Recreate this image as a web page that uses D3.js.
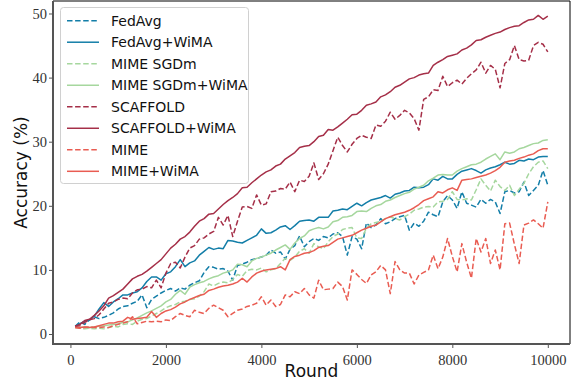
<!DOCTYPE html>
<html>
<head>
<meta charset="utf-8">
<script src="https://cdnjs.cloudflare.com/ajax/libs/d3/7.8.5/d3.min.js"></script>
<style>
    body { margin: 0; background: white; }
    .tick text { font-family: 'Liberation Serif', serif; font-size: 14.5px; fill: #333; }
    .aLabel { font-family: 'DejaVu Sans', sans-serif; font-size: 17px; fill: #111; }
    .legText { font-family: 'DejaVu Sans', sans-serif; font-size: 14px; fill: #111; }
</style>
</head>
<body>
<div id="chart"></div>
<script>
var width = 573;
var height = 383;
var plotLeft = 53;
var plotRight = 570;
var plotTop = 1;
var plotBottom = 344;

// rounds 100 .. 10000, one value every 100 rounds
var rounds = d3.range(1, 101).map(i => i * 100);
var xTicks = [0, 2000, 4000, 6000, 8000, 10000];
var yTicks = [0, 10, 20, 30, 40, 50];

var fedAvg = [1.2,1.9,1.5,2.2,2.7,2.4,2.6,2.9,3.3,3.9,4.3,4.4,4.8,5.1,6.1,4.1,5.4,5.9,6.4,6.8,
    7.1,6.7,7.2,7.0,7.6,8.0,8.3,9.6,10.5,10.4,10.1,10.2,9.8,8.4,10.7,10.9,11.2,11.6,11.8,12.0,
    12.3,13.1,12.6,12.8,11.7,13.2,13.8,15.3,13.6,14.4,14.9,14.6,15.2,15.0,15.6,15.8,15.2,12.3,15.2,14.8,
    13.3,17.3,16.6,17.0,18.0,17.2,17.5,18.0,18.3,18.5,16.2,17.3,16.8,17.6,19.0,18.6,18.3,20.6,21.6,20.9,
    19.6,22.2,20.4,20.1,19.8,21.0,20.4,21.0,20.6,18.8,22.2,22.4,22.0,22.2,23.7,21.6,22.4,23.2,25.5,23.2];
var fedAvgWima = [1.2,1.6,2.0,2.2,2.8,3.9,4.9,4.3,5.0,5.5,6.1,6.1,6.4,6.6,7.2,8.2,8.9,8.9,8.4,9.4,
    9.7,10.5,11.6,10.5,11.1,11.4,12.3,12.9,13.5,13.2,13.4,13.3,14.6,14.5,14.3,14.2,14.6,15.0,15.4,16.4,
    15.7,15.8,16.2,16.7,16.9,16.3,16.9,17.6,17.7,17.8,17.6,18.2,18.2,18.2,19.2,19.3,19.5,19.4,19.9,20.4,
    20.0,20.5,20.9,21.1,21.3,21.6,21.2,21.8,22.0,22.3,22.4,22.9,22.8,22.9,23.3,24.2,24.0,24.6,24.2,24.2,
    24.9,25.4,25.6,25.8,25.5,25.1,25.6,25.9,26.1,26.4,26.8,26.5,26.6,27.1,27.0,27.3,27.2,27.6,27.7,27.7];
var mimeSgdm = [1.0,0.9,0.8,0.9,0.8,0.9,0.8,1.0,1.2,1.1,1.5,1.6,1.5,2.0,2.3,2.4,2.8,3.2,3.6,4.1,
    4.4,4.6,5.0,5.1,5.4,5.5,5.9,6.6,7.8,7.5,7.9,8.1,8.0,8.5,9.3,9.0,9.9,10.1,10.0,10.3,
    9.7,10.0,10.2,11.0,11.8,11.5,12.0,12.9,13.3,12.6,14.1,13.6,13.3,14.4,15.2,15.6,16.3,16.5,16.6,15.0,
    14.9,16.5,17.2,17.4,17.6,18.0,18.3,18.0,17.8,18.3,18.7,19.3,19.5,19.8,19.9,19.8,20.6,20.7,21.0,22.2,
    21.0,20.9,21.1,20.9,22.5,24.2,23.2,22.3,24.0,23.0,22.4,23.2,21.6,22.6,23.5,25.0,26.1,26.8,27.0,25.8];
var mimeSgdmWima = [1.1,1.0,1.1,1.0,1.1,1.2,1.3,1.4,1.5,1.6,1.8,1.9,2.2,2.5,2.9,3.3,3.6,4.0,4.4,5.0,
    5.4,6.2,6.8,6.2,7.3,7.7,8.0,8.2,8.6,8.9,9.1,9.5,9.7,10.0,10.9,10.8,10.5,11.4,11.8,12.0,
    12.3,12.6,13.1,13.5,13.9,13.2,14.2,14.9,15.3,16.1,16.4,16.6,16.4,16.7,17.5,17.7,18.2,18.3,18.5,19.1,
    19.2,19.1,19.6,20.0,20.2,20.7,20.9,21.3,21.6,21.9,22.1,22.6,22.9,23.2,23.9,24.3,24.8,24.9,24.8,24.8,
    25.4,25.8,26.1,26.4,26.5,26.8,27.3,27.7,28.1,27.2,28.4,28.2,28.4,28.9,29.1,29.4,29.7,29.8,30.2,30.3];
var scaffold = [1.2,1.3,1.8,2.2,2.4,3.0,3.9,4.8,5.0,5.4,5.6,5.5,6.4,6.9,7.0,7.4,7.2,8.4,7.2,9.5,
    11.0,11.2,10.3,12.0,13.4,13.8,14.8,15.0,15.6,16.0,18.2,17.0,18.5,15.2,17.6,19.8,19.9,19.6,21.7,20.1,
    20.3,22.2,22.3,22.7,22.6,23.7,22.2,24.0,23.8,24.6,26.7,24.1,25.0,26.5,28.6,30.7,29.4,28.4,29.6,30.5,
    31.0,30.7,30.5,32.6,32.4,33.2,34.6,33.5,34.1,34.9,34.5,33.6,31.8,36.6,37.0,38.1,38.0,40.2,38.6,39.2,
    39.6,39.0,39.9,40.6,41.2,42.4,40.7,41.9,41.3,38.4,42.2,42.8,45.0,42.8,42.6,42.7,45.0,45.5,45.2,44.0];
var scaffoldWima = [1.2,1.5,2.1,2.3,2.9,3.6,4.4,5.6,6.0,6.5,7.0,7.8,8.6,9.0,9.3,9.8,10.4,11.0,11.6,12.5,
    13.4,14.0,14.8,15.2,15.9,16.8,17.6,18.0,18.7,18.8,19.5,20.2,20.8,21.3,21.9,22.8,22.9,23.6,24.2,24.8,
    25.3,25.6,26.2,26.5,27.3,27.8,28.3,29.1,29.3,29.4,30.0,30.8,31.0,31.9,31.8,32.3,32.9,33.5,34.2,34.3,
    34.9,35.7,35.9,36.2,37.0,37.3,37.8,38.5,38.8,39.3,39.8,40.0,40.4,40.6,40.7,41.9,42.4,42.8,43.3,43.5,
    43.7,44.3,44.6,45.1,45.8,45.9,46.3,46.6,46.9,47.1,47.5,47.8,48.0,48.1,48.6,49.0,49.1,49.7,49.1,49.6];
var mime = [1.0,0.9,1.0,1.1,1.0,1.0,1.1,1.0,1.3,1.5,1.7,1.9,2.7,1.6,1.8,2.0,1.9,2.0,1.9,2.2,
    2.1,2.7,3.2,2.9,2.7,3.7,3.4,3.2,4.0,4.5,4.1,3.7,2.7,3.2,3.7,3.9,4.3,4.5,4.8,5.8,
    4.5,5.3,4.3,4.6,6.1,5.8,6.6,6.3,7.1,6.1,5.6,8.4,6.9,7.0,7.1,8.1,7.4,5.3,10.0,9.3,
    8.5,7.9,9.2,9.7,10.7,10.0,6.3,11.3,10.0,9.5,9.5,7.8,9.2,9.6,10.0,12.3,10.2,12.0,14.9,12.1,
    9.7,14.1,11.2,8.7,14.9,12.8,14.9,11.0,13.1,10.0,17.2,17.3,14.0,11.0,17.0,17.3,17.8,17.2,16.5,20.6];
var mimeWima = [1.0,1.0,1.1,1.0,1.1,1.3,1.5,1.7,1.7,1.9,2.0,2.6,2.3,2.4,2.5,2.6,3.5,2.6,3.2,3.6,
    3.8,4.2,4.7,5.0,5.4,5.7,6.0,6.2,6.8,7.0,7.3,7.5,7.6,7.8,8.1,8.7,8.1,8.9,9.5,9.8,
    10.0,10.1,10.2,10.5,10.0,11.6,12.1,12.3,12.6,12.7,13.0,13.5,13.7,13.8,14.3,14.8,15.0,15.2,15.4,15.8,
    16.2,16.5,16.8,17.0,17.5,18.0,18.3,18.6,18.8,19.0,19.3,19.7,20.2,20.8,21.1,21.4,22.2,22.0,22.5,22.8,
    22.4,24.0,24.1,24.2,24.4,24.6,24.8,25.1,25.5,26.0,26.8,27.0,27.1,27.4,27.6,27.9,28.1,28.6,28.9,28.9];

var seriesNames = ['FedAvg', 'FedAvg+WiMA', 'MIME SGDm', 'MIME SGDm+WiMA',
    'SCAFFOLD', 'SCAFFOLD+WiMA', 'MIME', 'MIME+WiMA'];
var seriesValues = [fedAvg, fedAvgWima, mimeSgdm, mimeSgdmWima, scaffold, scaffoldWima, mime, mimeWima];
var seriesColors = ['#137ea8', '#137ea8', '#a6d79e', '#a6d79e', '#a52f48', '#a52f48', '#e95c52', '#e95c52'];
var seriesDashed = [true, false, true, false, true, false, true, false];

var svg = d3
    .select('#chart')
    .append('svg')
    .attr('width', width)
    .attr('height', height)
    .style('background', 'white');

var xScale = d3
    .scaleLinear()
    .domain([-365, 10465])
    .range([plotLeft, plotRight]);

var yScale = d3
    .scaleLinear()
    .domain([-1.56, 51.95])
    .range([plotBottom, plotTop]);

var line = d3
    .line()
    .x((d, i) => xScale(rounds[i]))
    .y(d => yScale(d));

seriesValues.forEach((vals, k) => {
    svg
        .append('path')
        .datum(vals)
        .attr('d', line)
        .attr('fill', 'none')
        .attr('stroke', seriesColors[k])
        .attr('stroke-width', 1.5)
        .attr('stroke-linejoin', 'round')
        .attr('stroke-dasharray', seriesDashed[k] ? '5.5,2.6' : null);
});

// frame: top/right thin black, left/bottom grey
svg.append('line')
    .attr('x1', plotLeft).attr('x2', plotRight)
    .attr('y1', plotTop).attr('y2', plotTop)
    .attr('stroke', '#000').attr('stroke-width', 1);
svg.append('line')
    .attr('x1', plotRight).attr('x2', plotRight)
    .attr('y1', plotTop).attr('y2', plotBottom)
    .attr('stroke', '#000').attr('stroke-width', 1);

var xAxis = d3.axisBottom(xScale)
    .tickValues(xTicks)
    .tickSize(4)
    .tickSizeOuter(0)
    .tickFormat(d3.format('d'));
var yAxis = d3.axisLeft(yScale)
    .tickValues(yTicks)
    .tickSize(4)
    .tickSizeOuter(0)
    .tickFormat(d3.format('d'));

var gx = svg
    .append('g')
    .attr('transform', `translate(0,${plotBottom})`)
    .call(xAxis);
gx.select('.domain').attr('stroke', '#555').attr('stroke-width', 2)
    .attr('d', `M${plotLeft - 1},0H${plotRight}`);
gx.selectAll('.tick line').attr('stroke', '#555');
gx.selectAll('.tick text').attr('dy', '0.95em');

var gy = svg
    .append('g')
    .attr('transform', `translate(${plotLeft},0)`)
    .call(yAxis);
gy.select('.domain').attr('stroke', '#555').attr('stroke-width', 2)
    .attr('d', `M0,${plotTop}V${plotBottom + 1}`);
gy.selectAll('.tick line').attr('stroke', '#555');
gy.selectAll('.tick text').attr('x', -6);

svg.append('text')
    .attr('class', 'aLabel')
    .attr('x', (plotLeft + plotRight) / 2)
    .attr('y', 377)
    .attr('text-anchor', 'middle')
    .text('Round');

svg.append('text')
    .attr('class', 'aLabel')
    .attr('transform', `translate(27,${(plotTop + plotBottom) / 2})rotate(-90)`)
    .attr('text-anchor', 'middle')
    .text('Accuracy (%)');

// legend
var legend = svg.append('g').attr('transform', 'translate(60,7)');
legend.append('rect')
    .attr('x', 0.5).attr('y', 0.5)
    .attr('width', 188).attr('height', 176)
    .attr('rx', 3)
    .attr('fill', 'white').attr('fill-opacity', 0.85)
    .attr('stroke', '#d0d0d0');

var legRow = d3.scaleLinear().domain([0, 7]).range([13.7, 164.3]);

seriesNames.forEach((name, k) => {
    var g = legend.append('g').attr('transform', `translate(0,${legRow(k)})`);
    g.append('line')
        .attr('x1', 7).attr('x2', 39)
        .attr('stroke', seriesColors[k])
        .attr('stroke-width', 1.5)
        .attr('stroke-dasharray', seriesDashed[k] ? '5.5,2.6' : null);
    g.append('text')
        .attr('class', 'legText')
        .attr('x', 51)
        .attr('dy', '0.36em')
        .text(name);
});
</script>
</body>
</html>
